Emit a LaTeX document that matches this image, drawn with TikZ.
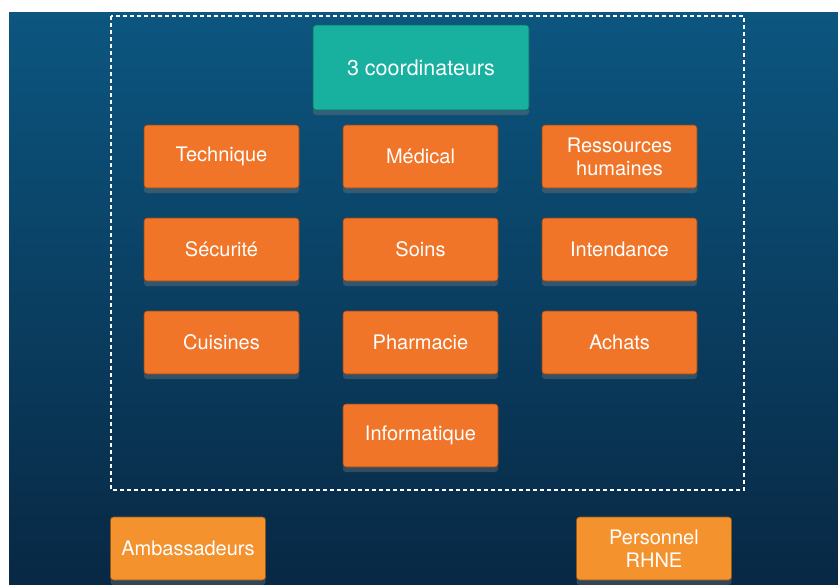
\documentclass[tikz,border=0pt]{standalone}
\usepackage{fontspec}
\setmainfont{TeX Gyre Heros}
\usetikzlibrary{shadows}

\definecolor{bgtop}{RGB}{12, 86, 128}
\definecolor{bgbot}{RGB}{8, 40, 68}
\definecolor{orangebox}{RGB}{240, 117, 40}
\definecolor{orangelight}{RGB}{244, 146, 45}
\definecolor{tealbox}{RGB}{24, 176, 159}

\tikzset{
    box/.style = {
        fill = orangebox, draw = orangebox!60!black, line width = 0.6pt,
        rounded corners = 3pt, text = white, align = center,
        minimum width = 155pt, minimum height = 63pt, inner sep = 0pt,
        font = \fontsize{20}{23}\selectfont,
        drop shadow = {shadow xshift = 0pt, shadow yshift = -5pt, opacity = 0.35}
    },
    outer/.style = {box, fill = orangelight, draw = orangelight!60!black},
    head/.style = {box, fill = tealbox, draw = tealbox!60!black,
        minimum width = 216pt, minimum height = 85pt,
        font = \fontsize{21.5}{24}\selectfont},
}

\begin{document}
\begin{tikzpicture}[x = 1pt, y = -1pt]
    \useasboundingbox (0, 0) rectangle (838, 584);
    \fill [white] (0, 0) rectangle (838, 584);
    \shade [top color = bgtop, bottom color = bgbot] (9, 12) rectangle (838, 584);

    \draw [white, line width = 2.2pt, dash pattern = on 4pt off 3pt] (111, 16) rectangle (744, 490);

    \node [head] (coord) at (421, 67.5) {3 coordinateurs};

    \node [box] (tech) at (221.5, 156.5) {Technique};
    \node [box] (med) at (420.5, 156.5) {Médical};
    \node [box] (rh) at (619.5, 156.5) {Ressources\\humaines};

    \node [box] (secu) at (221.5, 249.5) {Sécurité};
    \node [box] (soins) at (420.5, 249.5) {Soins};
    \node [box] (intend) at (619.5, 249.5) {Intendance};

    \node [box] (cuis) at (221.5, 342.5) {Cuisines};
    \node [box] (pharma) at (420.5, 342.5) {Pharmacie};
    \node [box] (achats) at (619.5, 342.5) {Achats};

    \node [box] (info) at (420.5, 435.5) {Informatique};

    \node [outer] (amb) at (188, 548.5) {Ambassadeurs};
    \node [outer] (rhne) at (654, 548.5) {Personnel\\RHNE};
\end{tikzpicture}
\end{document}
